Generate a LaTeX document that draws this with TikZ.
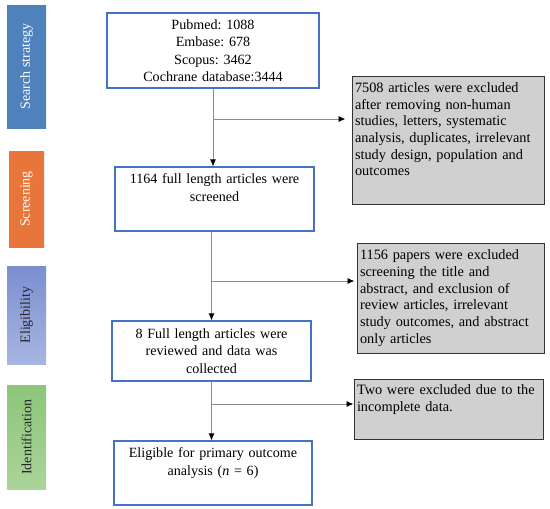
\documentclass[tikz,border=0pt]{standalone}
\usepackage{fontspec}
\setmainfont{Liberation Serif}
\usetikzlibrary{arrows.meta,positioning}

\definecolor{boxblue}{HTML}{4472C4}
\definecolor{ssblue}{HTML}{4F81BD}
\definecolor{scrorange}{HTML}{E8763A}
\definecolor{eligtop}{HTML}{7B8FD0}
\definecolor{eligbot}{HTML}{A7B5E2}
\definecolor{idtop}{HTML}{8DC57A}
\definecolor{idbot}{HTML}{ABD499}
\definecolor{exgray}{HTML}{D0D0D0}
\definecolor{linegray}{HTML}{8C8C8C}

\frenchspacing
\hyphenpenalty=10000

\tikzset{
  mainbox/.style={draw=boxblue, line width=1.1pt, fill=white, align=center,
    font=\fontsize{14.1}{17.5}\selectfont, inner xsep=3pt, inner ysep=0pt},
  exbox/.style={draw=black!80, line width=1pt, fill=exgray, align=left,
    font=\fontsize{14.3}{16.7}\selectfont, inner xsep=3pt, inner ysep=0pt},
  phase/.style={inner sep=0pt},
  flow/.style={draw=linegray, line width=0.9pt,
    -{Latex[color=black,length=7pt,width=6pt]}},
}

\begin{document}
\begin{tikzpicture}[x=1pt, y=-1pt]

\useasboundingbox (0,0) rectangle (550,509);

% phase bars on the left
\foreach \nm/\cy/\len/\barw/\tc/\bc/\fc/\txt in {
  search/66.5/123/39/ssblue/ssblue/white/Search strategy,
  screen/199/96/35/scrorange/scrorange/white/Screening,
  elig/315/98/39/eligtop/eligbot/black!85/Eligibility,
  ident/437/104/39/idtop/idbot/black!85/Identification}
{
  \node[phase, top color=\tc, bottom color=\bc,
    minimum height=\len, minimum width=\barw,
    label={[rotate=90, text=\fc, font=\fontsize{14}{17}\selectfont]center:\txt}]
    (\nm) at (26.5,\cy) {};
}

% main flow
\node[mainbox, text width=206, minimum height=75] (records) at (213,50.5)
  {Pubmed: 1088\\Embase: 678\\Scopus: 3462\\Cochrane database:3444};
\node[mainbox, text width=193, minimum height=64] (screened) at (214.5,199)
  {1164 full length articles were\\screened\\ \strut};
\node[mainbox, text width=193, minimum height=60] (fulltext) at (211.5,351)
  {8 Full length articles were\\reviewed and data was\\collected};
\node[mainbox, text width=192, minimum height=64] (included) at (213,473)
  {Eligible for primary outcome\\analysis (\textit{n} = 6)\\ \strut};

% excluded records
\node[exbox, text width=186, minimum height=128] (excl1) at (448,140)
  {7508 articles were excluded\\after removing non-human\\studies, letters, systematic\\analysis, duplicates, irrelevant\\study design, population and\\outcomes\\ \strut};
\node[exbox, text width=181, minimum height=110] (excl2) at (450.5,298)
  {1156 papers were excluded\\screening the title and\\abstract, and exclusion of\\review articles, irrelevant\\study outcomes, and abstract\\only articles};
\node[exbox, text width=183, minimum height=60] (excl3) at (448.5,409)
  {Two were excluded due to the\\incomplete data.\\ \strut};

\coordinate (b1) at (213,119);
\coordinate (b2) at (212,281);
\coordinate (b3) at (212,404);

\draw[flow] (records.south) -- (records.south |- screened.north);
\draw[flow] (fulltext |- screened.south) -- (fulltext.north);
\draw[flow] (fulltext.south) -- (fulltext.south |- included.north);

\draw[flow, shorten >=6pt] (b1) -- (b1 -| excl1.west);
\draw[flow, shorten >=2pt] (b2) -- (b2 -| excl2.west);
\draw[flow] (b3) -- (b3 -| excl3.west);

\end{tikzpicture}
\end{document}
